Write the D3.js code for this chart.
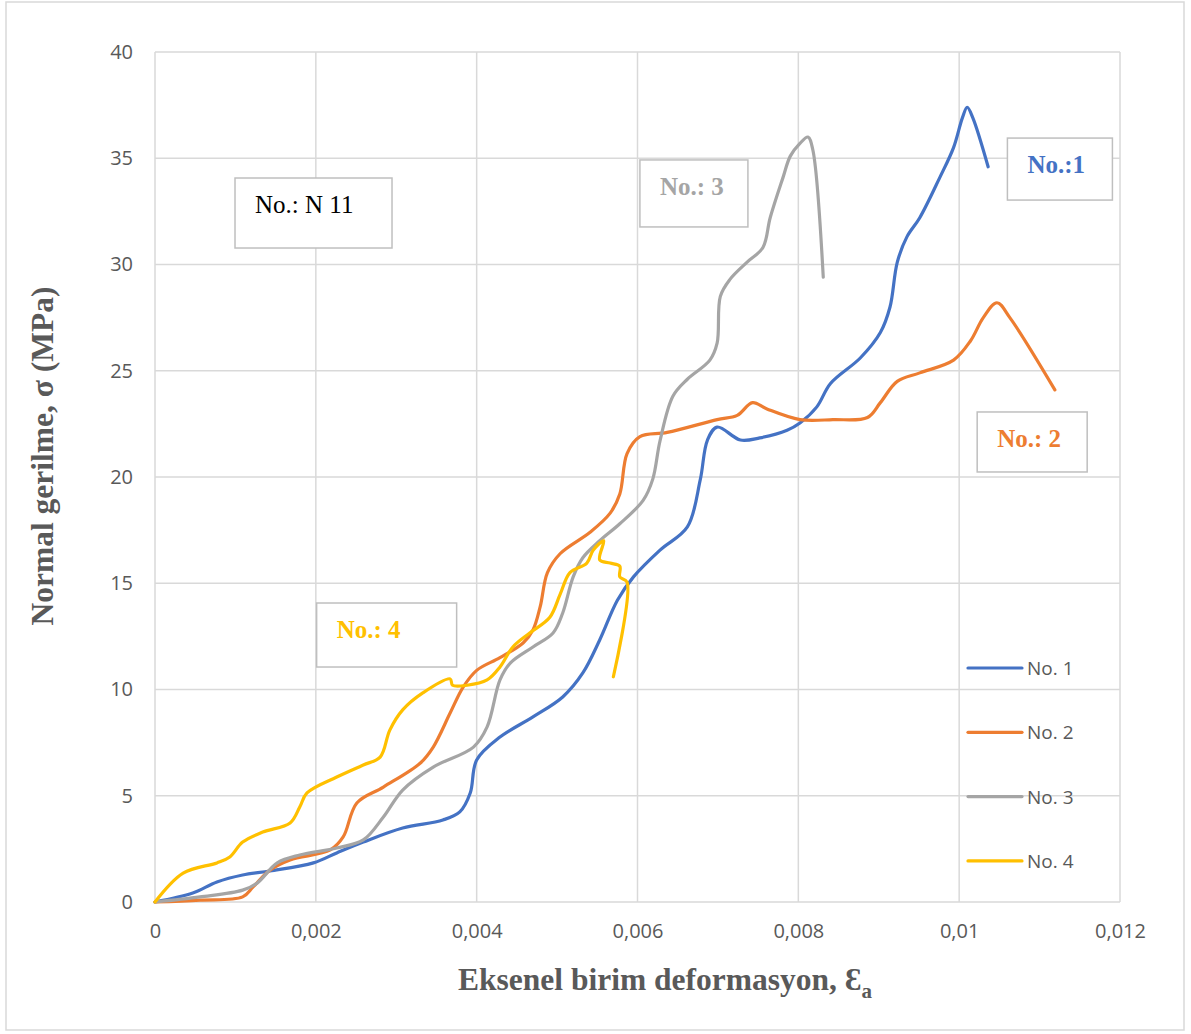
<!DOCTYPE html>
<html lang="tr">
<head>
<meta charset="UTF-8">
<title>Normal gerilme - Eksenel birim deformasyon</title>
<script src="https://d3js.org/d3.v7.min.js"></script>
<style>
  body { margin: 0; background: #fff; }
  svg { display: block; }
  .tick text { font-family: "Open Sans", sans-serif; font-size: 20px; fill: #595959; }
</style>
</head>
<body>
<svg id="chart" width="1191" height="1034"></svg>
<script>
// values: [strain, stress MPa]
const no1 = [[0,0],[0.00047,0.42],[0.00077,0.94],[0.00109,1.27],[0.00143,1.46],[0.00197,1.84],
  [0.00226,2.31],[0.00259,2.82],[0.00308,3.48],[0.00358,3.86],[0.00379,4.24],[0.00392,5.13],
  [0.0040,6.68],[0.00429,7.76],[0.0047,8.71],[0.00507,9.65],[0.00532,10.78],[0.00553,12.33],
  [0.00575,14.2],[0.00595,15.3],[0.00628,16.56],[0.00662,17.65],[0.00678,19.86],[0.00687,21.74],
  [0.00699,22.35],[0.00728,21.74],[0.00752,21.84],[0.00786,22.2],[0.00802,22.54],[0.00823,23.3],
  [0.0084,24.4],[0.00877,25.6],[0.00902,26.8],[0.00914,28.0],[0.00923,30.1],[0.00935,31.3],
  [0.00951,32.2],[0.00976,34.1],[0.00993,35.5],[0.01004,36.9],[0.0101,37.4],[0.01017,36.9],
  [0.01036,34.6]];
const no2 = [[0,0],[0.00056,0.09],[0.00109,0.24],[0.00122,0.71],[0.00143,1.5],[0.00168,1.98],
  [0.00218,2.45],[0.00234,3.06],[0.00251,4.66],[0.00284,5.41],[0.0033,6.54],[0.00346,7.29],
  [0.00367,8.89],[0.00383,10.1],[0.0040,10.9],[0.00429,11.5],[0.00458,12.2],[0.0047,12.8],
  [0.00479,13.9],[0.00488,15.5],[0.00504,16.4],[0.00541,17.4],[0.00566,18.3],[0.00578,19.2],
  [0.00587,21.1],[0.00603,21.9],[0.00637,22.1],[0.00699,22.7],[0.00724,22.9],[0.00743,23.5],
  [0.00761,23.2],[0.00802,22.7],[0.00843,22.7],[0.00886,22.8],[0.00902,23.5],[0.00923,24.5],
  [0.00951,24.9],[0.00993,25.5],[0.01014,26.4],[0.0103,27.5],[0.01047,28.2],[0.01063,27.5],
  [0.01119,24.1]];
const no3 = [[0,0],[0.00056,0.24],[0.00109,0.56],[0.00127,0.89],[0.00152,1.84],[0.0018,2.21],
  [0.00226,2.54],[0.00259,2.92],[0.00284,4.0],[0.00308,5.27],[0.00346,6.35],[0.00396,7.29],
  [0.00413,8.24],[0.00429,10.45],[0.00442,11.25],[0.0047,12.0],[0.00495,12.66],[0.00507,13.6],
  [0.0052,15.3],[0.00532,16.2],[0.00553,17.0],[0.00578,17.8],[0.00607,18.9],[0.00619,19.9],
  [0.00628,21.7],[0.00644,23.8],[0.00662,24.6],[0.0069,25.5],[0.00699,26.3],[0.00703,28.5],
  [0.00715,29.3],[0.00736,30.1],[0.00756,30.8],[0.00765,32.2],[0.00781,34.1],[0.0079,35.1],
  [0.00802,35.7],[0.00812,36.0],[0.00818,35.4],[0.00831,29.4]];
const no4 = [[0,0],[0.00035,1.36],[0.00077,1.84],[0.00093,2.12],[0.00109,2.82],[0.00134,3.29],
  [0.00168,3.72],[0.0018,4.47],[0.00189,5.13],[0.00226,5.88],[0.00259,6.45],[0.0028,6.82],
  [0.00292,8.09],[0.00308,9.04],[0.00333,9.84],[0.00367,10.5],[0.0037,10.2],[0.00388,10.2],
  [0.00413,10.45],[0.00429,11.06],[0.00445,12.0],[0.00466,12.66],[0.00491,13.4],[0.00504,14.5],
  [0.00516,15.5],[0.00537,15.95],[0.00545,16.56],[0.00558,17.0],[0.00553,16.1],[0.00566,15.95],
  [0.00578,15.8],[0.00578,15.3],[0.00587,15.05],[0.0057,10.6]];

const seriesNames = ["No. 1", "No. 2", "No. 3", "No. 4"];
const seriesData = [no1, no2, no3, no4];
const colors = ["#4472C4", "#ED7D31", "#A5A5A5", "#FFC000"];
const xTicks = [0, 0.002, 0.004, 0.006, 0.008, 0.01, 0.012];
const yTicks = [0, 5, 10, 15, 20, 25, 30, 35, 40];

// annotation boxes: label, color, bold, top-left corner in data units
const notes = [
  { text: "No.: N 11", color: "#000000", bold: false, at: [0.000995, 34.07] },
  { text: "No.: 3", color: "#A5A5A5", bold: true, at: [0.00603, 34.92] },
  { text: "No.:1", color: "#4472C4", bold: true, at: [0.0106, 35.95] },
  { text: "No.: 2", color: "#ED7D31", bold: true, at: [0.010224, 23.06] },
  { text: "No.: 4", color: "#FFC000", bold: true, at: [0.00201, 14.07] }
];

const width = 1191, height = 1034;
const margin = { top: 52, right: 71, bottom: 132, left: 155 };

const svg = d3.select("#chart");

// outer frame
svg.append("rect")
  .attr("x", 6).attr("y", 2).attr("width", 1178).attr("height", 1028)
  .attr("fill", "#fff").attr("stroke", "#d9d9d9").attr("stroke-width", 1.5);

const x = d3.scaleLinear().domain([0, 0.012]).range([margin.left, width - margin.right]);
const y = d3.scaleLinear().domain([0, 40]).range([height - margin.bottom, margin.top]);

// grid
svg.append("g").selectAll("line").data(yTicks).join("line")
  .attr("x1", x(0)).attr("x2", x(0.012))
  .attr("y1", d => y(d)).attr("y2", d => y(d))
  .attr("stroke", "#d9d9d9").attr("stroke-width", 1.5);
svg.append("g").selectAll("line").data(xTicks).join("line")
  .attr("x1", d => x(d)).attr("x2", d => x(d))
  .attr("y1", y(0)).attr("y2", y(40))
  .attr("stroke", "#d9d9d9").attr("stroke-width", 1.5);

// axes (labels only)
svg.append("g")
  .attr("transform", `translate(0,${y(0)})`)
  .call(d3.axisBottom(x).tickValues(xTicks).tickSize(0).tickPadding(22)
    .tickFormat(d => d === 0 ? "0" : String(+d.toFixed(3)).replace(".", ",")))
  .call(g => g.select(".domain").remove());
svg.append("g")
  .attr("transform", `translate(${x(0)},0)`)
  .call(d3.axisLeft(y).tickValues(yTicks).tickSize(0).tickPadding(22))
  .call(g => g.select(".domain").remove());

// axis titles
svg.append("text")
  .attr("x", 665).attr("y", 990)
  .attr("text-anchor", "middle")
  .attr("font-family", "Liberation Serif, serif").attr("font-weight", "bold")
  .attr("font-size", 31.5).attr("fill", "#595959")
  .text("Eksenel birim deformasyon, Ɛ")
  .append("tspan").attr("font-size", 21).attr("dy", 8).text("a");

svg.append("text")
  .attr("transform", "translate(53,456) rotate(-90)")
  .attr("text-anchor", "middle")
  .attr("font-family", "Liberation Serif, serif").attr("font-weight", "bold")
  .attr("font-size", 31.5).attr("fill", "#595959")
  .text("Normal gerilme, σ (MPa)");

// curves
const line = d3.line()
  .x(d => x(d[0])).y(d => y(d[1]))
  .curve(d3.curveCatmullRom.alpha(0.5));

svg.append("g").selectAll("path").data(seriesData).join("path")
  .attr("d", line)
  .attr("fill", "none")
  .attr("stroke", (d, i) => colors[i])
  .attr("stroke-width", 3.2)
  .attr("stroke-linejoin", "round")
  .attr("stroke-linecap", "round");

// annotation boxes
const boxW = [157, 108, 105, 110, 140];
const boxH = [70, 67, 62, 60, 64];
const nb = svg.append("g").selectAll("g").data(notes).join("g")
  .attr("transform", d => `translate(${x(d.at[0])},${y(d.at[1])})`);
nb.append("rect")
  .attr("width", (d, i) => boxW[i]).attr("height", (d, i) => boxH[i])
  .attr("fill", "#fff").attr("stroke", "#bfbfbf").attr("stroke-width", 1.5);
nb.append("text")
  .attr("x", 20)
  .attr("y", 35)
  .attr("font-family", "Liberation Serif, serif")
  .attr("font-weight", d => d.bold ? "bold" : "normal")
  .attr("font-size", 25)
  .attr("fill", d => d.color)
  .text(d => d.text);

// legend
const lg = svg.append("g").selectAll("g").data(seriesNames).join("g")
  .attr("transform", (d, i) => `translate(968,${668 + i * 64.3})`);
lg.append("line")
  .attr("x1", 0).attr("x2", 54)
  .attr("stroke", (d, i) => colors[i]).attr("stroke-width", 3.2).attr("stroke-linecap", "round");
lg.append("text")
  .attr("x", 59).attr("y", 7)
  .attr("font-family", "Open Sans, sans-serif").attr("font-size", 19)
  .attr("fill", "#595959")
  .text(d => d);
</script>
</body>
</html>
